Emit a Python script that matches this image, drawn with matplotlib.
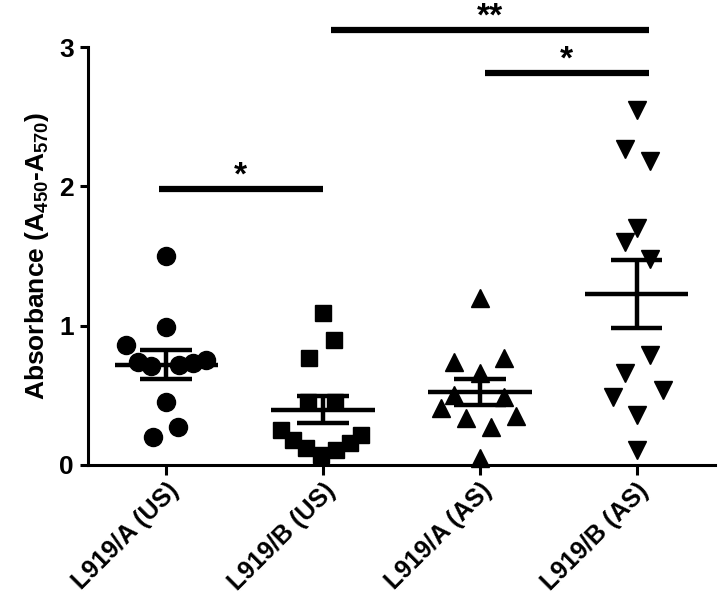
import numpy as np
import matplotlib.pyplot as plt

plt.rcParams['font.family'] = ['Liberation Sans', 'DejaVu Sans']
plt.rcParams['font.weight'] = 'bold'
plt.rcParams['mathtext.fontset'] = 'custom'
plt.rcParams['mathtext.rm'] = 'Liberation Sans:bold'
plt.rcParams['mathtext.default'] = 'rm'

groups = ['L919/A (US)', 'L919/B (US)', 'L919/A (AS)', 'L919/B (AS)']

# absorbance values
a_us = [1.50, 0.99, 0.86, 0.74, 0.71, 0.72, 0.73, 0.75, 0.45, 0.275, 0.20]
b_us = [1.09, 0.90, 0.77, 0.45, 0.45, 0.25, 0.18, 0.12, 0.07, 0.11, 0.16, 0.215]
a_as = [1.20, 0.74, 0.77, 0.66, 0.50, 0.49, 0.41, 0.34, 0.35, 0.27, 0.05]
b_as = [2.55, 2.27, 2.18, 1.70, 1.60, 1.48, 0.79, 0.66, 0.54, 0.49, 0.36, 0.11]

# sideways spread of the dots (scatter layout, in px of the original)
a_us_dx = [0, 0, -40, -28, -15, 13, 27, 40, 0, 12, -13]
b_us_dx = [0, 11, -14, -15, 12, -42, -30, -17, -2, 13, 27, 38]
a_as_dx = [0, -26, 24, 0, -26, 24, -39, -14, 36, 11, 0]
b_as_dx = [0, -12, 13, 0, -12, 13, 13, -12, 26, -24, 0, 0]

markers = ['o', 's', '^', 'v']
msizes = [13, 11, 12.5, 12.5]

# significance bars: (x start, x end, y, label)
sig = [(-0.05, 1.0, 1.98, '*'), (1.05, 3.08, 3.12, '**'), (2.03, 3.08, 2.81, '*')]

data = [a_us, b_us, a_as, b_as]
spread = [a_us_dx, b_us_dx, a_as_dx, b_as_dx]

fig = plt.figure(figsize=(7.2, 6.09), dpi=100)
ax = fig.add_axes([0.1222, 0.2365, 0.8708, 0.6863])

for i, vals in enumerate(data):
    vals = np.array(vals)
    xs = i + np.array(spread[i]) / 157.0
    ax.plot(xs, vals, linestyle='none', marker=markers[i], ms=msizes[i],
            color='black', mec='black', clip_on=False, zorder=3)
    m = vals.mean()
    sem = vals.std(ddof=1) / np.sqrt(len(vals))
    ax.hlines(m, i - 0.33, i + 0.33, color='black', lw=3.2, zorder=4)
    ax.vlines(i, m - sem, m + sem, color='black', lw=3.2, zorder=4)
    ax.hlines([m - sem, m + sem], i - 0.165, i + 0.165, color='black', lw=3.2, zorder=4)

for x0, x1, y, lab in sig:
    ax.plot([x0, x1], [y, y], color='black', lw=4.5, solid_capstyle='butt', clip_on=False)
    ax.text((x0 + x1) / 2, y + 0.035, lab, ha='center', va='baseline', fontsize=24,
            fontweight='bold')

ax.set_xlim(-0.5, 3.5)
ax.set_ylim(0, 3)
ax.set_yticks([0, 1, 2, 3])
ax.set_xticks(range(4))
ax.set_xticklabels(groups, rotation=45, ha='right', rotation_mode='anchor', fontsize=18)
ax.tick_params(axis='y', labelsize=19, width=2.2, length=6, pad=4)
ax.tick_params(axis='x', width=2.2, length=7, pad=3)
ax.spines['top'].set_visible(False)
ax.spines['right'].set_visible(False)
ax.spines['left'].set_linewidth(2.2)
ax.spines['bottom'].set_linewidth(2.2)
ax.spines['left'].set_bounds(0, 3)
ax.set_ylabel('Absorbance (A$_{450}$-A$_{570}$)', fontsize=19, fontweight='bold', labelpad=6)

fig.savefig('out.png', dpi=100)
